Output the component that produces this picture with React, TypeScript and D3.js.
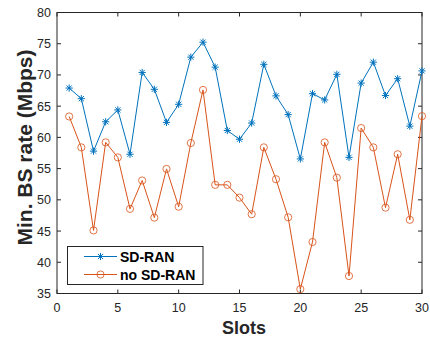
import React from "react";
import * as d3 from "d3";

const slots = d3.range(1, 31);
const sdRan = [67.9, 66.2, 57.8, 62.5, 64.4, 57.3, 70.4, 67.7, 62.4, 65.3, 72.85, 75.25, 71.25, 61.1, 59.7, 62.3, 71.7, 66.65, 63.65, 56.55, 67.0, 66.0, 70.1, 56.8, 68.7, 72.05, 66.7, 69.4, 61.8, 70.65];
const noSdRan = [63.35, 58.4, 45.1, 59.2, 56.8, 48.55, 53.1, 47.15, 54.95, 48.9, 59.1, 67.6, 52.4, 52.4, 50.35, 47.7, 58.4, 53.3, 47.2, 35.7, 43.25, 59.2, 53.55, 37.8, 61.5, 58.4, 48.75, 57.3, 46.8, 63.4];
const xTicks = [0, 5, 10, 15, 20, 25, 30];
const yTicks = [35, 40, 45, 50, 55, 60, 65, 70, 75, 80];
const seriesNames = ["SD-RAN", "no SD-RAN"];

const W = 430, H = 339;
const L = 57, R = 422, T = 12.5, B = 293.5;
const BLUE = "#0072BD";
const ORANGE = "#D95319";
const AX = "#262626";
const FONT = "Liberation Sans, Arial, Helvetica, sans-serif";

function Star({ x, y, s = 3.6 }: { x: number; y: number; s?: number }) {
  const d = s * 0.72;
  return (
    <path
      d={`M${x - s},${y}L${x + s},${y}M${x},${y - s}L${x},${y + s}M${x - d},${y - d}L${x + d},${y + d}M${x - d},${y + d}L${x + d},${y - d}`}
      stroke={BLUE}
      strokeWidth={1}
      fill="none"
    />
  );
}

export default function App() {
  const x = d3.scaleLinear().domain([0, 30]).range([L, R]);
  const y = d3.scaleLinear().domain([35, 80]).range([B, T]);
  const line = d3.line<number>().x((_, i) => x(slots[i])).y((v) => y(v));

  return (
    <div style={{ position: "fixed", left: 0, top: 0 }}>
      <svg width={W} height={H} style={{ display: "block", background: "#fff" }}>
        <rect x={L} y={T} width={R - L} height={B - T} fill="#fff" />
        {xTicks.map((t) => (
          <g key={"xt" + t}>
            <line x1={x(t)} x2={x(t)} y1={B} y2={B - 4} stroke={AX} />
            <line x1={x(t)} x2={x(t)} y1={T} y2={T + 4} stroke={AX} />
            <text x={x(t)} y={312} fontSize={12.5} fill={AX} textAnchor="middle" fontFamily={FONT}>
              {t}
            </text>
          </g>
        ))}
        {yTicks.map((t) => (
          <g key={"yt" + t}>
            <line x1={L} x2={L + 4} y1={y(t)} y2={y(t)} stroke={AX} />
            <line x1={R} x2={R - 4} y1={y(t)} y2={y(t)} stroke={AX} />
            <text x={51} y={y(t) + 4.5} fontSize={12.5} fill={AX} textAnchor="end" fontFamily={FONT}>
              {t}
            </text>
          </g>
        ))}
        <rect x={L} y={T} width={R - L} height={B - T} fill="none" stroke={AX} strokeWidth={1} />

        <path d={line(noSdRan) || ""} fill="none" stroke={ORANGE} strokeWidth={1} />
        {noSdRan.map((v, i) => (
          <circle key={"c" + i} cx={x(slots[i])} cy={y(v)} r={3.6} fill="none" stroke={ORANGE} strokeWidth={0.8} />
        ))}
        <path d={line(sdRan) || ""} fill="none" stroke={BLUE} strokeWidth={1} />
        {sdRan.map((v, i) => (
          <Star key={"s" + i} x={x(slots[i])} y={y(v)} />
        ))}

        <rect x={67.5} y={246.5} width={135.5} height={38} fill="#fff" stroke={AX} strokeWidth={1} />
        <line x1={84} x2={117} y1={256.5} y2={256.5} stroke={BLUE} strokeWidth={1} />
        <Star x={100.5} y={256.5} />
        <text x={120} y={261.5} fontSize={14} fontWeight="bold" fill="#000" fontFamily={FONT}>
          {seriesNames[0]}
        </text>
        <line x1={84} x2={117} y1={274.5} y2={274.5} stroke={ORANGE} strokeWidth={1} />
        <circle cx={100.5} cy={274.5} r={3.6} fill="none" stroke={ORANGE} strokeWidth={0.8} />
        <text x={120} y={279.5} fontSize={14} fontWeight="bold" fill="#000" fontFamily={FONT}>
          {seriesNames[1]}
        </text>

        <text x={244} y={333.5} fontSize={18} fontWeight="bold" fill={AX} textAnchor="middle" fontFamily={FONT}>
          Slots
        </text>
        <text
          transform="translate(32.3,147.5) rotate(-90)"
          fontSize={21}
          fontWeight="bold"
          fill={AX}
          textAnchor="middle"
          fontFamily={FONT}
        >
          Min. BS rate (Mbps)
        </text>
      </svg>
    </div>
  );
}
